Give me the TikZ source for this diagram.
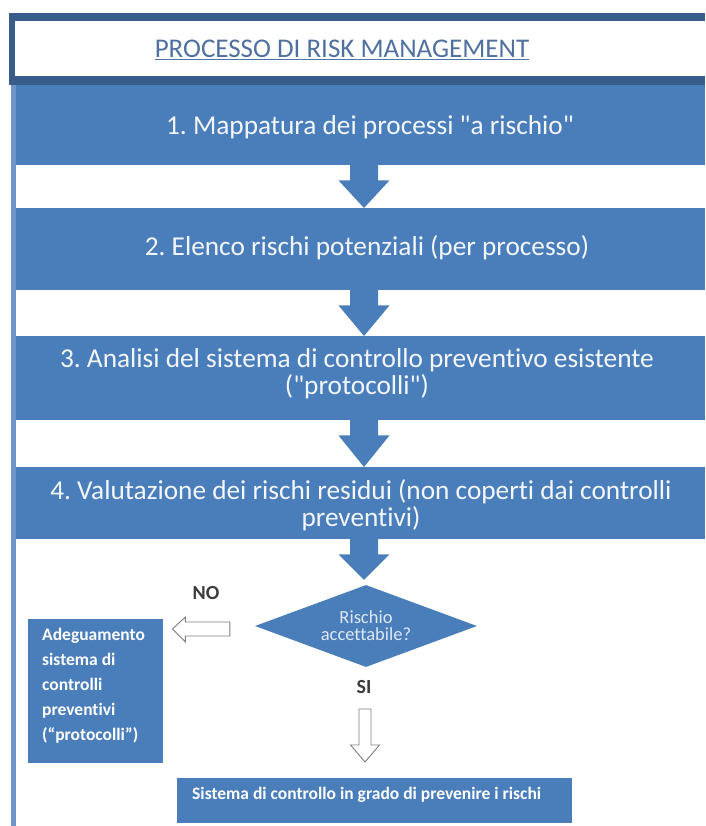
\documentclass[tikz,border=0pt]{standalone}
\usepackage{fontspec}
\setmainfont{Carlito}[Ligatures={NoCommon}]
\newfontfamily\qfont{Carlito}[Ligatures=ResetAll]
\usetikzlibrary{shapes.geometric,calc}
\frenchspacing
\definecolor{bandblue}{RGB}{74,126,187}
\definecolor{titledark}{RGB}{56,93,138}
\definecolor{titletext}{RGB}{80,112,160}
\definecolor{leftline}{RGB}{112,150,200}
\definecolor{bandtext}{RGB}{243,246,251}
\definecolor{dtext}{RGB}{222,232,244}
\definecolor{hollowgray}{RGB}{125,125,125}
\definecolor{labelgray}{RGB}{60,60,60}
\newcommand\bandarrow[3]{%
  \fill[bandblue] let \p1=(#1.south -| ax), \p2=(#2.north -| ax) in
    (\x1-14pt,\y1+1pt) -- (\x1+14pt,\y1+1pt) -- (\x1+14pt,\y1-15pt) --
    (\x1+25.5pt,\y1-15pt) -- (\x2,\y2+#3) -- (\x1-25.5pt,\y1-15pt) --
    (\x1-14pt,\y1-15pt) -- cycle;}
\newcommand\sq{{\qfont\symbol{34}}}
\begin{document}
\begin{tikzpicture}[x=1pt,y=-1pt,
  bandbox/.style={fill=bandblue,draw=none,minimum width=689pt,inner sep=0pt,anchor=north west},
  bandlabel/.style={text=bandtext,align=center,inner sep=0pt,font=\fontsize{27.3}{27}\selectfont},
  boldlabel/.style={text=white,inner sep=0pt,font=\fontsize{17.5}{25}\selectfont\bfseries},
  decision/.style={diamond,fill=bandblue,draw=none,minimum width=222pt,minimum height=82pt,inner sep=0pt,aspect=2.7,
    text=dtext,align=center,font=\fontsize{18.5}{16}\selectfont},
  hollow/.style={draw=hollowgray,fill=white,line width=0.9pt,line join=miter},
  yesno/.style={text=labelgray,inner sep=0pt,font=\fontsize{20}{20}\selectfont\bfseries}
]
\useasboundingbox (0,0) rectangle (705,826);
\fill[white] (0,0) rectangle (705,826);

% title frame
\fill[titledark] (9,13) rectangle (705,85);
\fill[white] (15,21) rectangle (705,76);
\node[text=titletext,inner sep=0pt,font=\fontsize{27}{27}\selectfont] (title) at (342,50) {\underline{PROCESSO DI RISK MANAGEMENT}};

% left frame line
\fill[leftline] (11,85) rectangle (16,826);

\coordinate (ax) at (364,0);

% bands
\node[bandbox,minimum height=80pt] (b1) at (16,85) {};
\node[bandbox,minimum height=82pt] (b2) at (16,208) {};
\node[bandbox,minimum height=84pt] (b3) at (16,336) {};
\node[bandbox,minimum height=72pt] (b4) at (16,467) {};

\node[bandlabel] (t1) at (370,127) {1. Mappatura dei processi \sq a rischio\sq};
\node[bandlabel] (t2) at (367,248) {2. Elenco rischi potenziali (per processo)};
\node[bandlabel] (t3) at (357,374) {3. Analisi del sistema di controllo preventivo esistente\\(\sq protocolli\sq)};
\node[bandlabel] (t4) at (361,505) {4. Valutazione dei rischi residui (non coperti dai controlli\\preventivi)};

% decision
\node[decision] (d) at (366,626) {\raisebox{1pt}{Rischio}\\accettabile?};

\bandarrow{b1}{b2}{0pt}
\bandarrow{b2}{b3}{0pt}
\bandarrow{b3}{b4}{0pt}
\bandarrow{b4}{d}{5pt}

% left box
\node[fill=bandblue,inner sep=0pt,minimum width=135pt,minimum height=144pt,anchor=north west] (ad) at (28,619) {};
\node[boldlabel,align=left,anchor=west] (adt) at (42,686) {Adeguamento\\sistema di\\controlli\\preventivi\\(“protocolli”)};

% bottom box
\node[fill=bandblue,inner sep=0pt,minimum width=395pt,minimum height=45pt,anchor=north west] (fin) at (177,778) {};
\node[boldlabel,anchor=west] (fint) at (192,795) {Sistema di controllo in grado di prevenire i rischi};

% labels
\node[yesno] (no) at (206,593) {NO};
\node[yesno] (si) at (364,687) {SI};

% hollow arrow NO
\coordinate (nl) at ($(d.west)+(-25,3)$);
\draw[hollow] let \p1=(nl), \p2=($(ad.east |- nl)+(9,0)$) in
  (\p2) -- (\x2+13pt,\y2+12pt) -- (\x2+13pt,\y2+7pt) -- (\x1,\y2+7pt) --
  (\x1,\y2-7pt) -- (\x2+13pt,\y2-7pt) -- (\x2+13pt,\y2-13pt) -- cycle;

% hollow arrow SI
\coordinate (sd) at (365,709);
\draw[hollow] let \p1=(sd), \p2=($(sd |- fin.north)+(0,-16)$) in
  (\x1-6pt,\y1) -- (\x1+6pt,\y1) -- (\x1+6pt,\y2+17pt) -- (\x1+14.5pt,\y2+17pt) --
  (\p2) -- (\x1-14.5pt,\y2+17pt) -- (\x1-6pt,\y2+17pt) -- cycle;
\end{tikzpicture}
\end{document}
